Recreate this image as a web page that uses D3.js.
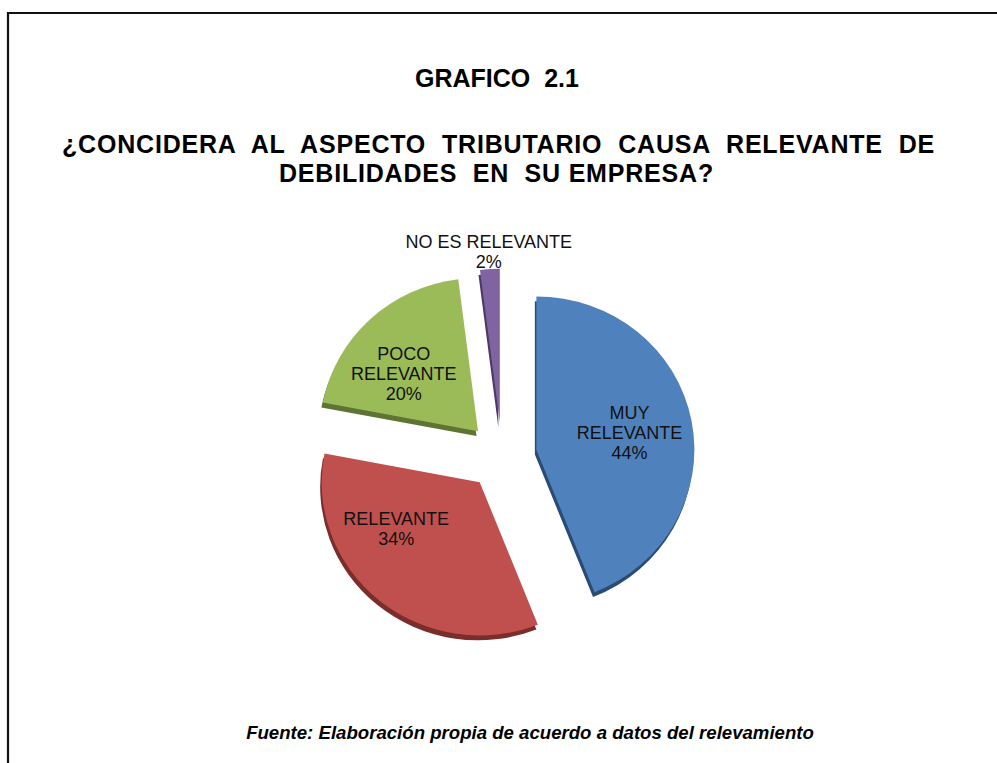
<!DOCTYPE html>
<html>
<head>
<meta charset="utf-8">
<script src="https://cdn.jsdelivr.net/npm/d3@7"></script>
<style>
  html, body { margin: 0; padding: 0; background: #fff; }
  svg { display: block; font-family: "Liberation Sans", Arial, sans-serif; }
</style>
</head>
<body>
<div id="chart"></div>
<script>
// data
const categories = ["MUY RELEVANTE", "RELEVANTE", "POCO RELEVANTE", "NO ES RELEVANTE"];
const percents = [44, 34, 20, 2];
const sliceColors = ["#4F81BD", "#C0504D", "#9BBB59", "#8064A2"];
const sideColors = ["#2A4C74", "#7A2D2B", "#5E7433", "#4C3A66"];

const chartTitle = "GRAFICO  2.1";
const questionLines = [
  "¿CONCIDERA AL ASPECTO TRIBUTARIO CAUSA RELEVANTE DE",
  "DEBILIDADES  EN  SU EMPRESA?"
];
const sourceNote = "Fuente: Elaboración propia de acuerdo a datos del relevamiento";

const width = 997, height = 763;
const cx = 502, cy = 456;
const radius = 158;
const tilt = 0.97;      // slight 3d squash
const explode = 35;
// best-fit nudges of the data labels, in degrees
const labelShift = [0, 15, -6, 0];

const svg = d3.select("#chart").append("svg")
  .attr("width", width)
  .attr("height", height);

// frame
svg.append("path")
  .attr("d", `M8,${height} L8,13 L${width},13`)
  .attr("fill", "none")
  .attr("stroke", "#111")
  .attr("stroke-width", 2.2);

// titles
svg.append("text")
  .attr("x", 497).attr("y", 87)
  .attr("text-anchor", "middle")
  .attr("font-size", 25).attr("font-weight", "bold")
  .style("white-space", "pre")
  .text(chartTitle);

const qWidths = [873, 435];
const qBase = [153, 182];
const qLeft = [62, 279];
questionLines.forEach((line, i) => {
  const t = svg.append("text")
    .attr("x", qLeft[i]).attr("y", qBase[i])
    .attr("font-size", 25).attr("font-weight", "bold")
    .attr("letter-spacing", 0.8)
    .style("white-space", "pre")
    .text(line);
  const natural = t.node().getComputedTextLength();
  const gaps = (line.match(/ /g) || []).length;
  const extra = (qWidths[i] - natural) / gaps;
  if (extra > 0.5) t.attr("word-spacing", extra);
});

// pie
const pie = d3.pie().sort(null).value(d => d)(percents);
const arc = d3.arc().innerRadius(0).outerRadius(radius);

const offset = d => {
  const a = (d.startAngle + d.endAngle) / 2;
  return [Math.sin(a) * explode, -Math.cos(a) * explode];
};

const g = svg.append("g").attr("transform", `translate(${cx},${cy})`);
const slices = g.append("g").attr("transform", `scale(1,${tilt})`);

// side (depth) of each slice
slices.selectAll(".side")
  .data(pie)
  .join("path")
  .attr("class", "side")
  .attr("d", arc)
  .attr("fill", (d, i) => sideColors[i])
  .attr("transform", d => {
    const [ox, oy] = offset(d);
    return `translate(${ox - 1.5},${oy + 5})`;
  });

// top faces
slices.selectAll(".face")
  .data(pie)
  .join("path")
  .attr("class", "face")
  .attr("d", arc)
  .attr("fill", (d, i) => sliceColors[i])
  .attr("transform", d => {
    const [ox, oy] = offset(d);
    return `translate(${ox},${oy})`;
  });

// labels
const lineH = 20;
pie.forEach((d, i) => {
  const a = (d.startAngle + d.endAngle) / 2 + labelShift[i] * Math.PI / 180;
  const outside = percents[i] < 5;
  const dist = outside ? explode + radius + 18 : explode + radius * 0.6;
  const x = Math.sin(a) * dist;
  const y = -Math.cos(a) * dist * tilt;
  const lines = (outside ? [categories[i]] : categories[i].split(" "))
    .concat([percents[i] + "%"]);
  const t = g.append("text")
    .attr("text-anchor", "middle")
    .attr("font-size", 18)
    .attr("fill", "#111");
  lines.forEach((ln, k) => {
    t.append("tspan")
      .attr("x", x)
      .attr("y", y + (k - (lines.length - 1) / 2) * lineH + 6.5)
      .text(ln);
  });
});

// source note
const note = svg.append("text")
  .attr("x", 530).attr("y", 739)
  .attr("text-anchor", "middle")
  .attr("font-size", 16)
  .attr("font-weight", "bold")
  .attr("font-style", "italic")
  .text(sourceNote);
const nw = note.node().getComputedTextLength();
note.attr("font-size", 16 * 568 / nw);
</script>
</body>
</html>
